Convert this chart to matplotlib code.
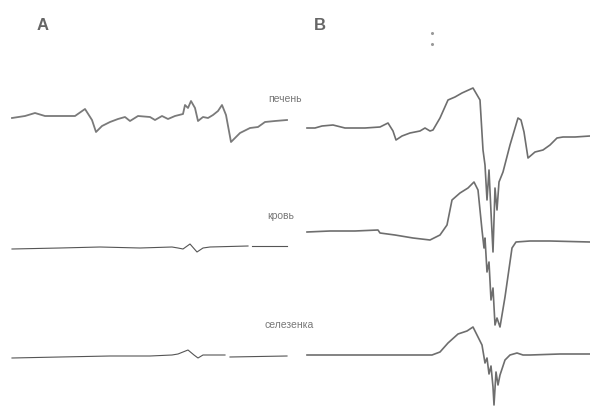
import matplotlib
matplotlib.use("Agg")
import matplotlib.pyplot as plt

# field position (px) and signal level (px, down = larger)
# panel A
a_liver_x = [12, 25, 35, 45, 75, 85, 92, 96, 102, 110, 118, 125, 130, 138, 150, 155,
             162, 168, 175, 183, 185, 188, 191, 195, 198, 203, 208, 213, 218, 222,
             226, 231, 240, 250, 258, 265, 275, 287]
a_liver_y = [118, 116, 113, 116, 116, 109, 120, 132, 126, 122, 119, 117, 121, 116, 117, 120,
             116, 119, 116, 114, 105, 108, 101, 108, 121, 117, 118, 115, 111, 105,
             115, 142, 133, 128, 127, 122, 121, 120]

a_blood_x = [[12, 60, 100, 140, 172, 178, 183, 190, 197, 203, 210, 248], [252, 287]]
a_blood_y = [[249, 248, 247, 248, 247, 248, 249, 244, 252, 248, 247, 246], [246, 246]]

a_spleen_x = [[12, 60, 110, 150, 172, 178, 188, 194, 198, 203, 225], [230, 287]]
a_spleen_y = [[358, 357, 356, 356, 355, 354, 350, 355, 358, 355, 355], [357, 356]]

# panel B
b_liver_x = [307, 315, 322, 333, 345, 365, 380, 388, 393, 396, 402, 410, 420, 425, 430,
             433, 440, 448, 455, 462, 473, 480, 483, 485, 487, 489, 491, 493, 495, 497,
             499, 503, 510, 518, 521, 524, 528, 535, 543, 550, 557, 563, 575, 590]
b_liver_y = [128, 128, 126, 125, 128, 128, 127, 123, 131, 140, 136, 133, 131, 128, 131,
             130, 118, 100, 97, 93, 88, 100, 150, 165, 200, 170, 212, 252, 188, 210,
             182, 172, 145, 118, 120, 132, 158, 152, 150, 145, 138, 137, 137, 136]

b_blood_x = [307, 330, 355, 378, 380, 395, 413, 430, 440, 447, 452, 460, 468, 474, 478,
             482, 484, 485, 487, 489, 491, 493, 495, 497, 500, 505, 512, 516, 530, 550, 590]
b_blood_y = [232, 231, 231, 230, 233, 235, 238, 240, 235, 225, 200, 193, 188, 182, 190,
             230, 248, 238, 272, 262, 300, 288, 325, 318, 327, 297, 248, 242, 241, 241, 242]

b_spleen_x = [307, 350, 400, 432, 440, 448, 458, 467, 473, 478, 482, 485, 487, 489, 491,
              493, 494, 496, 498, 500, 505, 510, 517, 523, 530, 560, 590]
b_spleen_y = [355, 355, 355, 355, 352, 343, 334, 331, 327, 337, 345, 363, 358, 374, 366,
              387, 405, 372, 385, 375, 360, 355, 353, 355, 355, 354, 354]

labels = ["печень", "кровь", "селезенка"]
label_x = [285, 281, 289]
label_y = [99, 216, 325]

plt.rcParams["font.family"] = ["Liberation Sans", "DejaVu Sans"]

fig = plt.figure(figsize=(5.9, 4.09), dpi=100)
ax = fig.add_axes([0, 0, 1, 1])
ax.set_xlim(0, 590)
ax.set_ylim(409, 0)
ax.axis("off")

ax.plot(a_liver_x, a_liver_y, color="#7a7a7a", lw=1.3)
for xs, ys in zip(a_blood_x, a_blood_y):
    ax.plot(xs, ys, color="#555555", lw=0.8)
for xs, ys in zip(a_spleen_x, a_spleen_y):
    ax.plot(xs, ys, color="#555555", lw=0.8)

ax.plot(b_liver_x, b_liver_y, color="#6e6e6e", lw=1.2)
ax.plot(b_blood_x, b_blood_y, color="#6e6e6e", lw=1.2)
ax.plot(b_spleen_x, b_spleen_y, color="#6e6e6e", lw=1.2)

for t, x, y in zip(labels, label_x, label_y):
    ax.text(x, y, t, fontsize=7.5, color="#777777", ha="center", va="center")

ax.text(43, 26, "A", fontsize=12, fontweight="bold", color="#666666", ha="center", va="center")
ax.text(320, 26, "B", fontsize=12, fontweight="bold", color="#666666", ha="center", va="center")

# small specks on the scan
ax.plot([432, 432], [33, 44], ls="none", marker="o", ms=1.2, color="#999999")

fig.savefig("out.png", dpi=100, facecolor="white")
